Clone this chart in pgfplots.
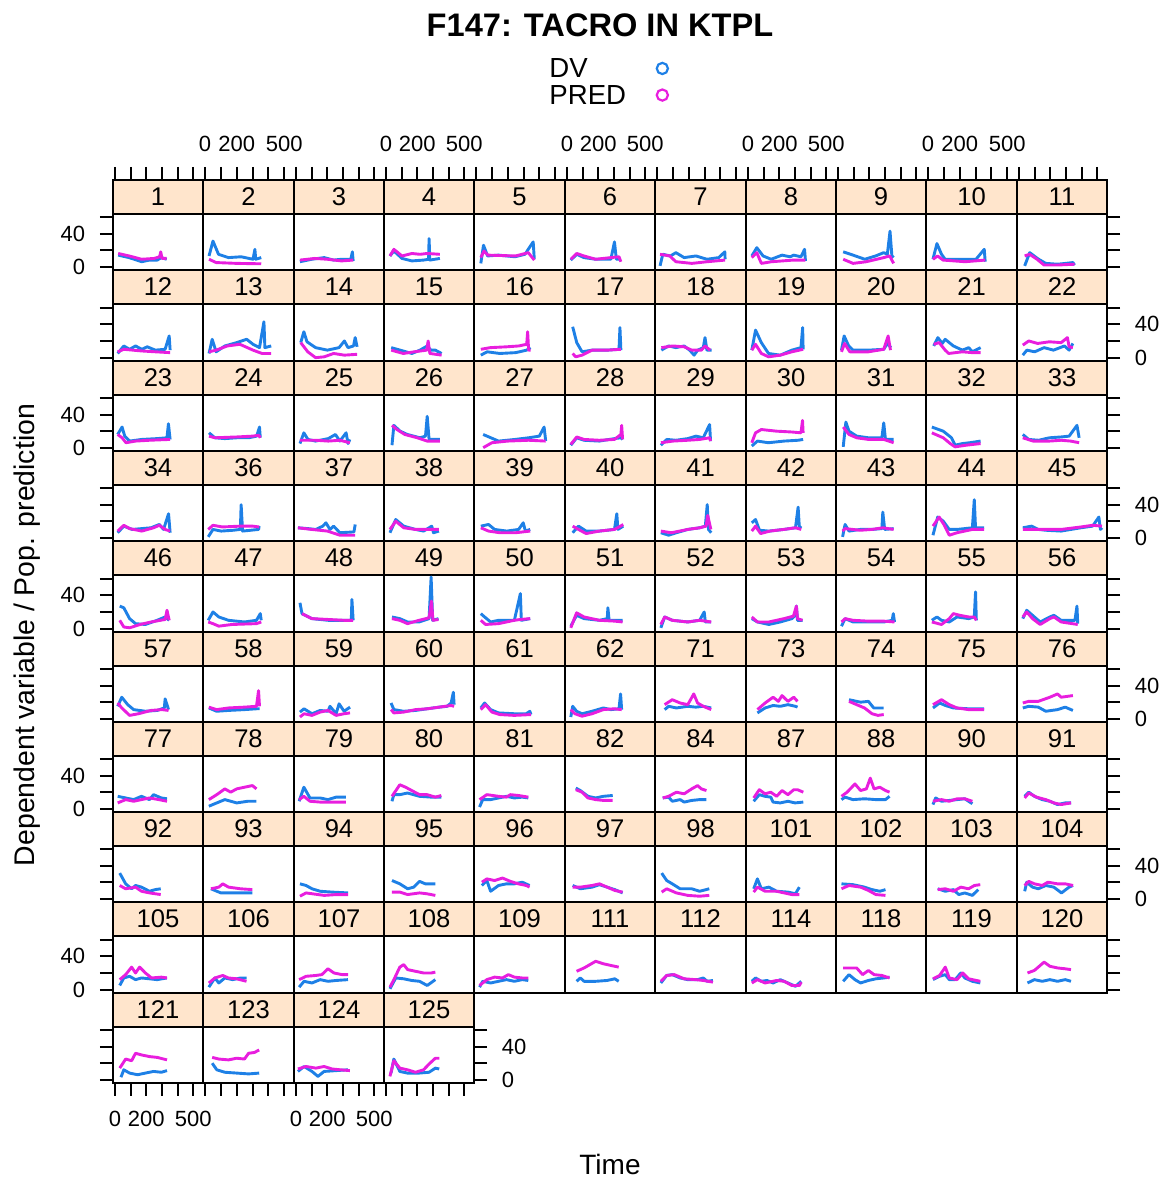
\documentclass[border=0pt]{standalone}
\usepackage{pgfplots}
\pgfplotsset{compat=1.18}
\usepackage{fontspec}
\setmainfont{Liberation Sans}
\definecolor{dvblue}{RGB}{30,128,230}
\definecolor{predmag}{RGB}{232,30,222}
\definecolor{stripcol}{HTML}{FFE5CC}
\pgfplotsset{
  pan/.style={
    scale only axis,
    xmin=-13, xmax=562, ymin=-4, ymax=105,
    axis on top, axis line style={line width=1.1pt},
    tick align=outside, major tick length=6.5pt,
    tick style={black, line width=1pt},
    xtick=\empty, ytick=\empty,
    tick label style={font=\fontsize{11}{12}\selectfont, inner sep=7.2pt},
    anchor=south west,
  },
  xn/.style={}, yn/.style={},
  xt/.style={xtick={0,100,...,500}, xtick pos=right, xticklabels={,,,,,}},
  xtl/.style={xtick={0,100,...,500}, xtick pos=right, xticklabel pos=right, xticklabels={0,,200,,,500}},
  xb/.style={xtick={0,100,...,500}, xtick pos=left, xticklabels={,,,,,}},
  xbl/.style={xtick={0,100,...,500}, xtick pos=left, xticklabel pos=left, xticklabels={0,,200,,,500}},
  yl/.style={ytick={0,20,40,60}, ytick pos=left, yticklabels={,,,}},
  yll/.style={ytick={0,20,40,60}, ytick pos=left, yticklabel pos=left, yticklabels={0,,40,}},
  yr/.style={ytick={0,20,40,60}, ytick pos=right, yticklabels={,,,}},
  yrl/.style={ytick={0,20,40,60}, ytick pos=right, yticklabel pos=right, yticklabels={0,,40,}},
}
\newcommand{\pnl}[7]{%
  \pgfmathsetmacro{\xa}{round(113+(#1-1)*90.36)}%
  \pgfmathsetmacro{\xb}{round(113+#1*90.36)}%
  \pgfmathsetmacro{\ya}{round(180+#2*90.3)}%
  \pgfmathsetmacro{\yb}{round(180+(#2-1)*90.3)}%
  \pgfmathsetmacro{\pw}{(\xb-\xa)*0.5}%
  \pgfmathsetmacro{\ph}{(\ya-\yb)*0.5}%
  \pgfmathsetmacro{\px}{\xa*0.5}%
  \pgfmathsetmacro{\py}{(1179-\ya)*0.5}%
  \pgfmathsetmacro{\sb}{(\ya-\yb-34)/(\ya-\yb)}%
  \pgfmathsetmacro{\sm}{(1+\sb)/2}%
  \begin{axis}[pan,#4,#5,width=\pw pt,height=\ph pt,at={(\px pt,\py pt)}]
    \fill[stripcol] (rel axis cs:0,\sb) rectangle (rel axis cs:1,1);
    \draw[line width=1.1pt] (rel axis cs:0,\sb) -- (rel axis cs:1,\sb);
    \node[font=\fontsize{12.8}{14}\selectfont] at (rel axis cs:0.5,\sm) {#3};
    \addplot[dvblue, line width=1.45pt, line join=round] coordinates {#6};
    \addplot[predmag, line width=1.45pt, line join=round] coordinates {#7};
  \end{axis}}
\begin{document}
\begin{tikzpicture}
\path[use as bounding box] (0,0) rectangle (581.5pt,589.5pt);
% Row 1
\pnl{1}{1}{1}{xt}{yll}{(20,14)(90,11)(170,6)(220,8)(270,8)(295,11)(330,9)}{(20,16)(90,13)(170,9)(250,10)(285,12)(292,18)(300,10)(330,10)}
\pnl{2}{1}{2}{xtl}{yn}{(25,13)(50,31)(85,15)(148,11)(228,12)(303,9)(315,21)(320,9)(355,11)}{(25,9)(70,5)(200,4)(355,3.5)}
\pnl{3}{1}{3}{xt}{yn}{(25,6)(100,9)(180,11)(240,8)(290,9)(350,9)(360,18)(365,7)}{(25,8)(120,10)(200,9)(290,7)(365,8)}
\pnl{4}{1}{4}{xtl}{yn}{(25,13)(50,19)(102,10)(165,7)(240,8)(272,9)(275,34)(280,8)(344,10)}{(25,13)(50,21)(102,13)(165,16)(217,15)(263,16)(344,15)}
\pnl{5}{1}{5}{xt}{yn}{(30,4)(47,26)(73,13)(142,14)(246,12)(309,15)(361,30)(368,9)}{(30,11)(50,19)(75,14)(250,13)(330,17)(368,8)}
\pnl{6}{1}{6}{xtl}{yn}{(24,8)(62,15)(108,11)(183,9)(280,9)(303,30)(315,9)(344,9)}{(24,9)(62,16)(108,13)(183,9)(280,11)(332,12)(344,6)}
\pnl{7}{1}{7}{xt}{yn}{(19,1)(36,15)(85,13)(119,17)(171,11)(246,13)(315,9)(390,11)(428,18)(430,9)}{(19,15)(80,13)(119,6)(220,4)(315,6)(430,8)}
\pnl{8}{1}{8}{xtl}{yn}{(24,13)(56,23)(96,13)(148,9)(217,14)(269,12)(292,14)(338,12)(361,21)(367,7)}{(24,11)(56,17)(85,4)(150,6)(290,8)(367,8)}
\pnl{9}{1}{9}{xt}{yn}{(33,18)(96,14)(171,9)(240,13)(292,17)(315,15)(332,43)(344,13)(355,11)}{(33,9)(96,4)(180,6)(292,11)(330,13)(355,4)}
\pnl{10}{1}{10}{xtl}{yn}{(31,9)(56,28)(85,15)(108,9)(234,9)(303,9)(355,21)(361,6)}{(31,9)(60,13)(95,8)(234,6)(361,8)}
\pnl{11}{1}{11}{xt}{yr}{(36,1)(68,17)(125,9)(171,4)(246,3)(298,4)(344,5)(355,2)}{(36,13)(68,15)(115,9)(160,2)(246,2)(355,3)}
% Row 2
\pnl{1}{2}{12}{xn}{yl}{(17,5)(56,14)(93,10)(131,14)(171,10)(206,13)(257,9)(320,10)(346,26)(352,9)}{(17,7)(56,10)(171,8)(257,7)(352,6)}
\pnl{2}{2}{13}{xn}{yn}{(25,5)(45,22)(70,7)(125,14)(200,18)(263,22)(303,16)(344,12)(372,43)(378,12)(418,14)}{(25,7)(70,9)(140,14)(220,16)(303,9)(360,5)(418,5)}
\pnl{3}{2}{14}{xn}{yn}{(30,18)(50,31)(70,19)(125,12)(200,9)(275,12)(309,20)(332,12)(367,14)(378,24)(390,13)}{(30,18)(75,7)(125,0)(180,1)(240,5)(309,3)(390,4)}
\pnl{4}{2}{15}{xn}{yn}{(33,12)(90,9)(165,5)(217,9)(263,14)(286,9)(315,9)(355,5)}{(33,9)(110,5)(180,7)(260,9)(269,20)(280,5)(355,3)}
\pnl{5}{2}{16}{xn}{yn}{(30,3)(70,7)(150,5)(250,6)(320,9)(344,12)}{(30,10)(90,12)(194,13)(269,14)(320,16)(326,31)(332,9)(344,9)}
\pnl{6}{2}{17}{xn}{yn}{(36,37)(62,18)(96,7)(160,9)(257,9)(332,10)(338,36)(344,9)}{(36,5)(55,1)(96,3)(160,9)(257,9)(344,10)}
\pnl{7}{2}{18}{xn}{yn}{(27,9)(73,14)(119,12)(171,14)(206,9)(234,3)(257,9)(292,12)(303,24)(315,9)(344,9)}{(27,12)(100,14)(171,13)(220,9)(280,9)(303,14)(335,9)}
\pnl{8}{2}{19}{xn}{yn}{(24,9)(48,33)(85,18)(131,5)(206,3)(280,9)(338,12)(349,36)(352,10)}{(24,9)(48,16)(85,5)(131,1)(206,3)(280,7)(352,10)}
\pnl{9}{2}{20}{xn}{yn}{(22,9)(39,26)(68,14)(96,9)(194,9)(292,10)(315,17)(338,12)}{(22,7)(42,17)(75,7)(194,7)(292,10)(320,26)(335,9)}
\pnl{10}{2}{21}{xn}{yn}{(36,14)(62,24)(90,17)(108,22)(160,14)(217,9)(257,12)(280,7)(332,12)}{(36,16)(70,18)(108,9)(130,5)(217,7)(280,6)(332,6)}
\pnl{11}{2}{22}{xn}{yrl}{(24,3)(50,9)(100,7)(160,12)(220,9)(290,14)(320,9)(344,17)}{(24,15)(62,20)(119,17)(194,19)(269,18)(309,24)(320,13)(344,12)}
% Row 3
\pnl{1}{3}{23}{xn}{yll}{(17,16)(45,25)(62,14)(93,8)(171,10)(269,11)(332,12)(341,29)(352,10)}{(17,16)(45,12)(70,6)(130,8)(220,9)(352,10)}
\pnl{2}{3}{24}{xn}{yn}{(25,18)(62,12)(125,11)(200,12)(275,12)(326,14)(344,25)(349,12)}{(25,14)(62,12)(200,13)(300,14)(340,15)(349,12)}
\pnl{3}{3}{25}{xn}{yn}{(25,5)(50,18)(76,10)(125,8)(206,11)(252,16)(280,8)(320,18)(332,5)(344,10)}{(25,9)(125,9)(206,8)(280,9)(344,6)}
\pnl{4}{3}{26}{xn}{yn}{(38,3)(50,27)(90,20)(136,16)(217,12)(252,14)(263,38)(275,10)(344,10)}{(38,27)(70,22)(120,16)(200,12)(263,8)(344,8)}
\pnl{5}{3}{27}{xn}{yn}{(45,16)(142,8)(246,10)(332,12)(400,14)(430,25)(440,8)}{(45,0)(100,6)(200,8)(332,9)(440,8)}
\pnl{6}{3}{28}{xn}{yn}{(24,3)(62,12)(108,9)(206,8)(303,11)(344,12)(355,10)}{(24,4)(62,13)(108,10)(206,9)(303,10)(344,16)(349,27)(355,10)}
\pnl{7}{3}{29}{xn}{yn}{(24,3)(62,10)(119,9)(194,11)(246,14)(292,12)(332,28)(338,8)}{(24,6)(100,8)(194,9)(270,10)(332,12)(338,8)}
\pnl{8}{3}{30}{xn}{yn}{(24,2)(60,8)(130,6)(230,8)(320,9)(352,10)}{(24,6)(48,18)(85,22)(183,20)(280,19)(338,18)(348,33)(352,18)}
\pnl{9}{3}{31}{xn}{yn}{(33,1)(50,31)(70,20)(119,14)(194,12)(280,12)(292,30)(303,10)(355,10)}{(33,25)(70,16)(119,12)(194,10)(292,10)(355,6)}
\pnl{10}{3}{32}{xn}{yn}{(24,25)(96,20)(148,12)(171,3)(217,5)(263,6)(332,8)}{(24,18)(96,12)(140,5)(171,1)(240,3)(332,5)}
\pnl{11}{3}{33}{xn}{yr}{(24,16)(62,10)(125,9)(194,12)(269,13)(320,14)(370,27)(384,12)}{(24,12)(90,8)(194,8)(269,9)(330,8)(384,6)}
% Row 4
\pnl{1}{4}{34}{xn}{yl}{(17,6)(56,14)(110,10)(230,12)(283,16)(310,10)(342,29)(352,6)}{(17,8)(56,15)(93,11)(171,8)(246,12)(283,15)(320,10)(352,8)}
\pnl{2}{4}{36}{xn}{yn}{(20,1)(50,10)(102,8)(177,9)(223,10)(228,40)(237,8)(338,10)(342,14)}{(20,10)(50,15)(110,13)(223,14)(300,14)(342,13)}
\pnl{3}{4}{37}{xn}{yn}{(12,12)(76,11)(127,10)(171,14)(191,18)(217,10)(240,14)(280,6)(370,7)(378,16)}{(12,12)(100,10)(200,8)(280,3)(378,3)}
\pnl{4}{4}{38}{xn}{yn}{(25,6)(62,22)(113,14)(188,10)(240,8)(292,14)(303,6)(338,8)}{(25,10)(62,20)(113,12)(188,10)(292,10)(338,10)}
\pnl{5}{4}{39}{xn}{yn}{(30,14)(79,16)(117,10)(194,8)(269,10)(298,18)(312,8)(342,10)}{(30,12)(79,8)(150,6)(250,6)(342,8)}
\pnl{6}{4}{40}{xn}{yn}{(36,6)(73,14)(122,8)(206,8)(303,10)(318,29)(325,10)(359,14)}{(36,14)(73,10)(122,5)(206,8)(303,10)(342,14)(359,16)}
\pnl{7}{4}{41}{xn}{yn}{(24,6)(73,3)(122,6)(194,10)(269,12)(305,14)(317,40)(325,10)(342,6)}{(24,8)(90,6)(194,10)(269,12)(310,14)(320,27)(340,10)}
\pnl{8}{4}{42}{xn}{yn}{(24,18)(48,22)(73,9)(133,8)(228,10)(303,12)(320,37)(328,12)(340,14)}{(24,8)(48,14)(80,5)(140,8)(228,10)(303,12)(340,10)}
\pnl{9}{4}{43}{xn}{yn}{(29,1)(45,16)(70,8)(142,10)(217,10)(280,11)(286,31)(298,10)(355,11)}{(29,8)(45,11)(142,9)(217,10)(286,12)(355,10)}
\pnl{10}{4}{44}{xn}{yn}{(31,3)(61,25)(96,20)(134,10)(183,10)(280,12)(292,46)(300,12)(355,12)}{(31,14)(70,25)(100,16)(134,3)(183,6)(280,10)(355,10)}
\pnl{11}{4}{45}{xn}{yrl}{(24,12)(80,14)(123,10)(171,9)(269,8)(395,12)(470,14)(510,25)(520,10)(530,12)}{(24,10)(123,10)(269,10)(395,13)(470,15)(530,14)}
% Row 5
\pnl{1}{5}{46}{xn}{yll}{(30,27)(56,25)(93,12)(131,6)(194,5)(269,10)(320,14)(346,10)}{(30,10)(56,2)(93,1)(160,5)(230,8)(320,11)(332,22)(346,10)}
\pnl{2}{5}{47}{xn}{yn}{(20,10)(50,20)(87,14)(148,10)(249,8)(325,10)(349,18)(355,10)}{(20,8)(50,6)(87,3)(170,5)(325,6)(355,8)}
\pnl{3}{5}{48}{xn}{yn}{(25,31)(38,18)(102,12)(206,10)(307,10)(353,10)(357,35)(365,10)}{(38,18)(102,12)(206,11)(307,10)(365,10)}
\pnl{4}{5}{49}{xn}{yn}{(38,14)(88,12)(137,8)(211,8)(275,12)(288,62)(298,10)(335,12)}{(38,12)(88,10)(137,6)(211,10)(275,13)(290,33)(300,10)(335,11)}
\pnl{5}{5}{50}{xn}{yn}{(30,18)(54,14)(92,8)(142,10)(242,10)(280,42)(286,10)(342,12)}{(30,10)(60,5)(142,6)(242,10)(280,11)(342,12)}
\pnl{6}{5}{51}{xn}{yn}{(24,3)(61,16)(109,12)(207,10)(257,12)(261,25)(269,10)(355,10)}{(24,1)(61,19)(109,14)(207,10)(305,9)(355,8)}
\pnl{7}{5}{52}{xn}{yn}{(24,1)(48,14)(96,10)(194,8)(269,10)(298,20)(305,8)(342,8)}{(24,5)(48,14)(96,10)(194,8)(269,10)(342,8)}
\pnl{8}{5}{53}{xn}{yn}{(24,12)(60,8)(133,5)(206,8)(280,12)(303,16)(309,27)(316,10)(348,10)}{(24,14)(60,8)(133,8)(230,12)(290,15)(309,27)(316,12)(348,10)}
\pnl{9}{5}{54}{xn}{yn}{(22,3)(45,12)(96,8)(194,8)(292,8)(346,10)(353,18)(361,8)}{(22,8)(45,12)(96,10)(194,9)(292,9)(361,8)}
\pnl{10}{5}{55}{xn}{yn}{(24,10)(56,14)(85,10)(134,8)(183,14)(257,12)(292,14)(300,44)(305,10)}{(24,8)(85,5)(134,12)(160,18)(200,16)(257,14)(292,14)(305,10)}
\pnl{11}{5}{56}{xn}{yr}{(24,12)(49,22)(86,16)(135,8)(197,14)(223,16)(269,10)(357,10)(370,27)(375,6)}{(24,14)(49,20)(86,12)(135,5)(197,12)(223,14)(269,8)(375,5)}
% Row 6
\pnl{1}{6}{57}{xn}{yl}{(17,15)(43,26)(81,17)(119,11)(194,9)(269,10)(315,13)(320,24)(342,11)}{(17,19)(43,13)(93,4)(150,6)(230,10)(300,11)(342,10)}
\pnl{2}{6}{58}{xn}{yn}{(24,13)(73,9)(148,10)(249,11)(325,12)(344,12)}{(24,14)(73,11)(148,13)(249,14)(325,15)(338,34)(344,15)}
\pnl{3}{6}{59}{xn}{yn}{(25,8)(51,12)(102,6)(154,10)(204,9)(217,15)(256,6)(275,18)(307,9)(345,14)}{(25,2)(51,6)(102,4)(154,8)(204,10)(256,4)(307,6)(345,7)}
\pnl{4}{6}{60}{xn}{yn}{(32,19)(50,11)(113,9)(188,10)(263,12)(340,14)(390,15)(416,19)(430,32)(435,17)}{(32,11)(50,7)(113,8)(188,11)(263,12)(340,14)(416,16)(435,15)}
\pnl{5}{6}{61}{xn}{yn}{(30,13)(54,19)(92,11)(142,7)(242,6)(317,6)(340,9)(347,5)}{(30,11)(60,17)(100,8)(150,5)(242,4)(347,5)}
\pnl{6}{6}{62}{xn}{yn}{(24,2)(36,15)(61,9)(96,6)(160,9)(232,13)(280,11)(332,12)(342,30)(349,11)}{(24,11)(50,6)(96,3)(160,6)(232,11)(300,12)(349,11)}
\pnl{7}{6}{71}{xn}{yn}{(48,11)(73,15)(122,13)(194,15)(244,14)(292,15)(342,13)}{(48,17)(96,23)(146,19)(194,17)(232,30)(256,19)(292,15)(342,11)}
\pnl{8}{6}{73}{xn}{yn}{(60,7)(109,13)(160,16)(206,15)(255,17)(303,15)(316,14)}{(60,11)(109,19)(160,26)(194,21)(217,28)(255,21)(292,26)(316,21)}
\pnl{9}{6}{74}{xn}{yn}{(70,23)(144,20)(194,21)(228,13)(292,13)}{(70,21)(119,17)(169,13)(217,6)(255,4)(292,5)}
\pnl{10}{6}{75}{xn}{yn}{(31,13)(73,19)(109,16)(160,13)(257,12)(355,12)}{(31,17)(85,23)(134,17)(183,13)(257,11)(355,11)}
\pnl{11}{6}{76}{xn}{yrl}{(24,13)(62,15)(123,14)(171,9)(246,11)(295,14)(344,10)}{(24,19)(62,21)(123,21)(197,26)(246,30)(269,26)(344,28)}
% Row 7
\pnl{1}{7}{77}{xn}{yll}{(17,15)(68,13)(119,11)(169,15)(220,11)(246,17)(296,13)(332,12)}{(17,7)(68,11)(119,9)(169,11)(220,13)(280,11)(332,9)}
\pnl{2}{7}{78}{xn}{yn}{(24,3)(74,7)(125,11)(200,7)(270,9)(325,9)}{(24,11)(74,17)(125,24)(162,20)(200,24)(249,26)(299,28)(325,24)}
\pnl{3}{7}{79}{xn}{yn}{(20,9)(50,26)(89,13)(154,13)(204,11)(256,14)(319,14)}{(20,11)(50,15)(89,9)(154,8)(256,8)(319,8)}
\pnl{4}{7}{80}{xn}{yn}{(38,9)(50,17)(88,17)(137,19)(214,15)(290,14)(353,14)}{(38,15)(88,29)(125,26)(164,22)(214,17)(263,17)(315,14)(353,16)}
\pnl{5}{7}{81}{xn}{yn}{(22,2)(42,11)(92,11)(142,13)(192,15)(242,13)(292,14)(330,13)}{(22,11)(68,17)(142,15)(192,14)(217,17)(267,16)(330,14)}
\pnl{6}{7}{82}{xn}{yn}{(56,25)(85,22)(134,15)(183,13)(232,15)(292,16)}{(56,23)(96,20)(134,13)(183,11)(232,10)(292,10)}
\pnl{7}{7}{84}{xn}{yn}{(36,13)(73,14)(96,9)(146,11)(171,8)(219,10)(269,11)(312,11)}{(36,13)(73,15)(122,20)(171,18)(219,24)(256,28)(280,24)(312,22)}
\pnl{8}{7}{87}{xn}{yn}{(36,9)(72,17)(109,15)(145,14)(160,8)(206,7)(255,9)(300,7)(353,8)}{(36,13)(72,23)(109,18)(145,20)(183,15)(217,22)(255,17)(292,23)(316,23)(353,20)}
\pnl{9}{7}{88}{xn}{yn}{(22,11)(45,14)(95,11)(169,12)(242,11)(303,11)(329,15)}{(22,15)(58,20)(108,30)(144,22)(181,24)(206,37)(230,24)(267,26)(303,22)(329,20)}
\pnl{10}{7}{90}{xn}{yn}{(31,5)(48,13)(85,9)(134,10)(183,11)(232,12)(280,6)}{(31,9)(85,11)(134,9)(183,12)(232,12)(280,9)}
\pnl{11}{7}{91}{xn}{yr}{(36,15)(62,20)(98,15)(148,11)(197,9)(246,5)(295,7)(332,7)}{(36,13)(62,19)(111,14)(171,11)(223,7)(269,5)(332,7)}
% Row 8
\pnl{1}{8}{92}{xn}{yl}{(30,31)(68,18)(106,12)(131,16)(169,14)(220,9)(257,11)(292,12)}{(30,16)(68,12)(131,14)(169,9)(220,7)(292,5)}
\pnl{2}{8}{93}{xn}{yn}{(37,12)(100,7)(174,7)(249,7)(299,7)}{(37,12)(87,14)(112,18)(148,14)(224,12)(299,11)}
\pnl{3}{8}{94}{xn}{yn}{(25,18)(64,16)(102,12)(154,9)(230,8)(332,7)}{(25,3)(64,7)(102,6)(180,4)(260,5)(332,5)}
\pnl{4}{8}{95}{xn}{yn}{(38,22)(88,18)(138,12)(177,14)(214,21)(251,18)(315,18)}{(38,8)(88,8)(138,5)(214,7)(260,6)(315,4)}
\pnl{5}{8}{96}{xn}{yn}{(37,16)(68,22)(92,9)(142,16)(192,18)(242,18)(292,20)(338,16)}{(37,20)(68,24)(117,22)(167,25)(217,21)(267,18)(317,16)(338,14)}
\pnl{6}{8}{97}{xn}{yn}{(36,16)(85,12)(160,14)(207,17)(256,14)(305,11)(355,7)}{(36,14)(85,14)(160,16)(207,18)(256,14)(305,10)(355,8)}
\pnl{7}{8}{98}{xn}{yn}{(29,31)(61,22)(96,18)(146,12)(219,12)(269,9)(330,12)}{(29,8)(61,12)(122,7)(194,4)(269,3)(330,4)}
\pnl{8}{8}{101}{xn}{yn}{(36,12)(60,24)(85,12)(133,14)(183,9)(255,8)(303,6)(328,14)}{(36,8)(60,14)(109,9)(183,9)(231,7)(280,5)(328,5)}
\pnl{9}{8}{102}{xn}{yn}{(22,18)(95,17)(169,14)(217,11)(267,9)(303,11)}{(22,12)(70,16)(144,14)(194,10)(242,5)(303,4)}
\pnl{10}{8}{103}{xn}{yn}{(61,12)(109,9)(160,11)(194,5)(232,7)(280,4)(317,11)}{(61,11)(109,12)(160,9)(207,14)(256,12)(293,16)(330,17)}
\pnl{11}{8}{104}{xn}{yrl}{(36,9)(49,20)(86,14)(123,12)(171,16)(222,14)(271,7)(320,14)(345,16)}{(36,16)(62,21)(98,18)(148,16)(184,20)(246,18)(295,18)(345,16)}
% Row 9
\pnl{1}{9}{105}{xn}{yll}{(30,5)(56,14)(93,16)(131,12)(169,14)(220,13)(269,12)(332,14)}{(30,12)(68,18)(106,27)(131,20)(157,27)(194,20)(233,14)(296,15)(332,14)}
\pnl{2}{9}{106}{xn}{yn}{(24,3)(62,14)(87,8)(125,14)(174,12)(224,14)(262,14)}{(24,8)(62,14)(112,17)(148,14)(200,13)(262,10)}
\pnl{3}{9}{107}{xn}{yn}{(20,3)(51,10)(102,8)(154,12)(204,10)(256,11)(332,12)}{(20,12)(64,16)(127,17)(165,18)(204,25)(242,20)(294,18)(332,18)}
\pnl{4}{9}{108}{xn}{yn}{(25,1)(62,14)(113,13)(164,11)(214,10)(263,5)(315,12)}{(25,3)(50,12)(88,27)(113,30)(138,24)(188,22)(240,20)(290,20)(315,21)}
\pnl{5}{9}{109}{xn}{yn}{(22,3)(42,10)(92,8)(142,10)(192,12)(242,10)(292,12)(330,11)}{(22,5)(68,12)(117,15)(167,14)(204,18)(242,15)(292,14)(330,14)}
\pnl{6}{9}{111}{xn}{yn}{(61,10)(85,14)(109,10)(183,10)(256,11)(305,13)(330,10)}{(61,22)(109,26)(183,34)(232,31)(280,29)(330,27)}
\pnl{7}{9}{112}{xn}{yn}{(24,8)(61,17)(96,18)(146,14)(194,12)(256,12)(292,14)(317,10)(353,11)}{(24,10)(61,17)(109,18)(171,13)(244,12)(292,11)(353,9)}
\pnl{8}{9}{114}{xn}{yn}{(24,10)(48,14)(85,10)(121,11)(160,8)(206,12)(255,8)(303,4)(340,10)}{(24,8)(60,12)(109,8)(183,11)(231,10)(280,5)(328,5)(340,9)}
\pnl{9}{9}{118}{xn}{yn}{(33,10)(70,18)(108,12)(144,8)(194,11)(242,13)(292,14)(329,15)}{(33,26)(83,26)(119,26)(157,18)(194,23)(230,18)(280,17)(329,14)}
\pnl{10}{9}{119}{xn}{yn}{(31,12)(73,16)(109,18)(134,12)(171,12)(207,20)(232,14)(280,10)(330,8)}{(31,13)(73,17)(109,27)(134,14)(183,12)(219,20)(256,13)(330,10)}
\pnl{11}{9}{120}{xn}{yr}{(54,8)(98,12)(148,10)(197,12)(246,10)(295,12)(332,10)}{(54,20)(98,23)(160,33)(197,28)(246,26)(295,25)(332,24)}
% Row 10
\pnl{1}{10}{121}{xbl}{yl}{(38,3)(56,12)(93,8)(144,6)(194,8)(246,10)(296,9)(332,11)}{(30,14)(68,25)(106,23)(131,32)(169,30)(220,28)(269,27)(332,24)}
\pnl{2}{10}{123}{xb}{yn}{(45,20)(74,12)(125,9)(200,8)(275,7)(342,8)}{(45,27)(87,25)(148,24)(200,26)(249,25)(275,32)(312,33)(342,36)}
\pnl{3}{10}{124}{xbl}{yn}{(12,10)(51,16)(102,10)(140,4)(179,10)(256,11)(332,12)}{(12,13)(64,16)(127,14)(179,16)(230,13)(282,12)(344,11)}
\pnl{4}{10}{125}{xb}{yrl}{(32,8)(50,25)(88,10)(137,8)(211,8)(275,9)(315,14)(340,13)}{(25,4)(50,23)(88,14)(137,12)(188,9)(240,12)(275,19)(315,26)(340,26)}
% legend
\begin{axis}[at={(0pt,0pt)}, anchor=south west, scale only axis, width=581.5pt, height=589.5pt,
  xmin=0, xmax=1, ymin=0, ymax=1, hide axis,
  legend plot pos=right, legend cell align=left,
  legend image code/.code={\node[draw, circle, inner sep=0pt, minimum size=5.6pt, line width=1.1pt, #1] at (0pt,0pt) {};},
  legend style={at={(0.4721,0.9503)}, anchor=north west, draw=none, fill=none, inner sep=0pt,
    font=\fontsize{13.8}{14}\selectfont, row sep=3.8pt, column sep=14.75pt,
    nodes={inner sep=0pt, text depth=0pt}}]
\addlegendimage{dvblue}
\addlegendentry{DV}
\addlegendimage{predmag}
\addlegendentry{PRED}
\end{axis}
\node[font=\bfseries\fontsize{16.3}{18}\selectfont, anchor=base] at (300pt,571pt) {F147: TACRO IN KTPL};
\node[font=\fontsize{14}{16}\selectfont, anchor=base] at (305pt,2pt) {Time};
\node[font=\fontsize{14.2}{16}\selectfont, rotate=90, anchor=base] at (17pt,272pt) {Dependent variable / Pop. prediction};
\end{tikzpicture}
\end{document}
